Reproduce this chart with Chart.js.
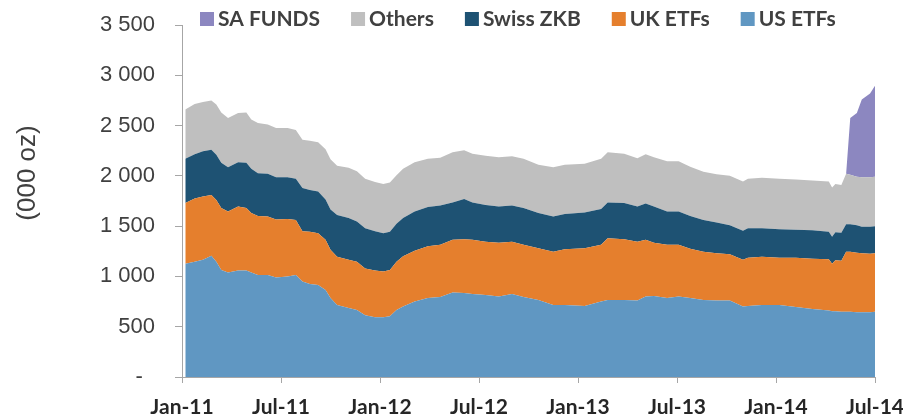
<!DOCTYPE html>
<html>
<head>
<meta charset="utf-8">
<title>ETF holdings</title>
<script src="https://cdn.jsdelivr.net/npm/chart.js@4.4.1/dist/chart.umd.min.js"></script>
<style>
  html, body { margin: 0; padding: 0; background: #fff; }
</style>
</head>
<body>
<canvas id="holdings-chart" width="903" height="419"></canvas>
<script>
// Время: месяцы от Jan-11
const months = [0.2, 0.77, 1.27, 1.78, 2.08, 2.38, 2.79, 3.4, 3.9, 4.2,
  4.6, 5.2, 5.7, 6.4, 6.9, 7.3, 7.75, 8.25, 8.7, 9.0,
  9.4, 10.1, 10.6, 11.1, 11.7, 12.2, 12.6, 13.0, 13.4, 14.1,
  14.9, 15.65, 16.4, 17.1, 17.6, 18.4, 19.2, 20.0, 20.7, 21.6,
  22.5, 23.2, 24.4, 25.4, 25.8, 26.8, 27.6, 28.1, 28.6, 29.4,
  30.1, 30.8, 31.6, 32.4, 33.2, 34.0, 34.3, 35.15, 36.2, 37.2,
  38.2, 39.2, 39.4, 39.6, 39.96, 40.25, 40.5, 40.9, 41.2, 41.7, 42.0];

const usEtfs = [1125, 1145, 1165, 1205, 1145, 1065, 1040, 1060, 1060, 1040,
  1015, 1015, 990, 1000, 1015, 950, 925, 915, 865, 785,
  715, 685, 665, 615, 595, 595, 605, 665, 700, 750,
  785, 795, 840, 835, 825, 815, 800, 825, 795, 765,
  715, 715, 705, 750, 765, 765, 760, 800, 805, 785,
  800, 785, 765, 760, 760, 700, 705, 715, 715, 695,
  675, 660, 655, 655, 650, 650, 650, 645, 645, 645, 650];

const ukEtfs = [605, 630, 630, 605, 615, 615, 605, 635, 620, 590,
  585, 580, 575, 570, 545, 500, 520, 515, 500, 480,
  480, 480, 480, 465, 465, 455, 460, 480, 500, 505,
  515, 520, 525, 535, 540, 530, 535, 520, 520, 515,
  530, 555, 575, 565, 615, 605, 585, 565, 530, 530,
  515, 490, 480, 470, 460, 465, 480, 480, 470, 490,
  500, 510, 470, 505, 505, 595, 595, 590, 585, 580, 580];

const swissZkb = [440, 440, 450, 450, 450, 450, 440, 440, 450, 440,
  425, 425, 420, 415, 410, 430, 415, 415, 400, 400,
  415, 415, 400, 400, 390, 380, 380, 380, 380, 390,
  390, 390, 370, 400, 370, 365, 360, 360, 365, 350,
  350, 350, 355, 355, 355, 360, 350, 360, 360, 330,
  330, 325, 315, 305, 290, 290, 295, 285, 285, 280,
  285, 275, 270, 280, 280, 275, 275, 275, 265, 270, 270];

const others = [490, 500, 490, 490, 500, 500, 490, 490, 500, 490,
  500, 490, 490, 490, 485, 480, 490, 490, 500, 500,
  490, 500, 500, 490, 490, 490, 490, 480, 490, 490,
  480, 475, 500, 485, 485, 490, 490, 490, 490, 480,
  490, 490, 485, 500, 500, 490, 480, 490, 490, 500,
  500, 490, 480, 480, 490, 490, 490, 500, 500, 500,
  495, 500, 490, 480, 475, 500, 490, 480, 490, 490, 490];

const saFunds = [0, 0, 0, 0, 0, 0, 0, 0, 0, 0,
  0, 0, 0, 0, 0, 0, 0, 0, 0, 0,
  0, 0, 0, 0, 0, 0, 0, 0, 0, 0,
  0, 0, 0, 0, 0, 0, 0, 0, 0, 0,
  0, 0, 0, 0, 0, 0, 0, 0, 0, 0,
  0, 0, 0, 0, 0, 0, 0, 0, 0, 0,
  0, 0, 0, 0, 0, 0, 565, 635, 775, 835, 905];

const tickLabels = ['Jan-11', 'Jul-11', 'Jan-12', 'Jul-12', 'Jan-13', 'Jul-13', 'Jan-14', 'Jul-14'];
const seriesNames = ['US ETFs', 'UK ETFs', 'Swiss ZKB', 'Others', 'SA FUNDS'];
const seriesColors = ['#6097C2', '#E57F2D', '#1E5273', '#BFBFBF', '#8C87C0'];
const seriesValues = [usEtfs, ukEtfs, swissZkb, others, saFunds];

function fmt(v) {
    return String(v).replace(/\B(?=(\d{3})+(?!\d))/g, ' ');
}

// Легенда и подпись оси
const legendAndTitle = {
    id: 'legendAndTitle',
    afterDraw(chart) {
        const ctx = chart.ctx;
        ctx.save();
        ctx.font = 'bold 21px Lato';
        ctx.textBaseline = 'middle';
        ctx.textAlign = 'left';
        let x = 200;
        for (let i = chart.data.datasets.length - 1; i >= 0; i--) {
            const ds = chart.data.datasets[i];
            ctx.fillStyle = ds.backgroundColor;
            ctx.fillRect(x, 12, 14, 14);
            ctx.fillStyle = '#404040';
            ctx.fillText(ds.label, x + 18, 19.5);
            x += 18 + ctx.measureText(ds.label).width + 31;
        }
        ctx.translate(28, 173);
        ctx.rotate(-Math.PI / 2);
        ctx.textAlign = 'center';
        ctx.font = '26px "Liberation Sans"';
        ctx.fillText('(000 oz)', 0, 0);
        ctx.restore();
    }
};

const ctx = document.getElementById('holdings-chart').getContext('2d');
const holdingsChart = new Chart(ctx, {
    type: 'line',
    data: {
        datasets: seriesValues.map((vals, i) => ({
            label: seriesNames[i],
            data: vals.map((v, j) => ({ x: months[j], y: v })),
            backgroundColor: seriesColors[i],
            borderColor: seriesColors[i],
            borderWidth: 0,
            pointRadius: 0,
            tension: 0,
            fill: i === 0 ? 'origin' : '-1'
        }))
    },
    options: {
        responsive: false,
        devicePixelRatio: 1,
        animation: false,
        layout: { padding: { top: 25, right: 28, left: 0, bottom: 0 } },
        plugins: {
            legend: { display: false },
            tooltip: { enabled: false }
        },
        scales: {
            x: {
                type: 'linear',
                min: 0,
                max: 42,
                ticks: {
                    stepSize: 6,
                    autoSkip: false,
                    maxRotation: 0,
                    padding: 12,
                    color: '#262626',
                    font: { family: 'Lato', weight: 'bold', size: 21 },
                    callback: v => tickLabels[v / 6]
                },
                grid: { drawOnChartArea: false, tickLength: 6, color: '#A6A6A6' },
                border: { color: '#A6A6A6' },
                afterFit: s => { s.height = 42; s.paddingLeft = 0; s.paddingRight = 0; }
            },
            y: {
                stacked: true,
                min: 0,
                max: 3500,
                ticks: {
                    stepSize: 500,
                    padding: 20,
                    color: '#404040',
                    font: { family: 'Liberation Sans', size: 22 },
                    callback: v => v === 0 ? '-  ' : fmt(v)
                },
                grid: { drawOnChartArea: false, tickLength: 7, color: '#A6A6A6' },
                border: { color: '#A6A6A6' },
                afterFit: s => { s.width = 182; s.paddingTop = 0; s.paddingBottom = 0; }
            }
        }
    },
    plugins: [legendAndTitle]
});
</script>
</body>
</html>
